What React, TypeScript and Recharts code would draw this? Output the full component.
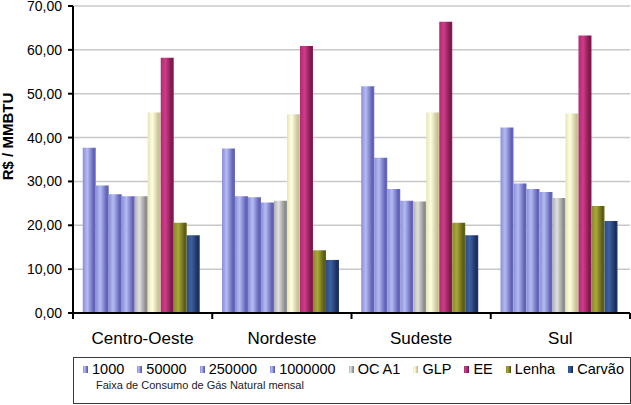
import React from 'react';
import { BarChart, Bar, XAxis, YAxis, CartesianGrid, Label } from 'recharts';

const categories = ['Centro-Oeste', 'Nordeste', 'Sudeste', 'Sul'];
const s1000 = [37.7, 37.5, 51.7, 42.3];
const s50000 = [29.1, 26.6, 35.4, 29.5];
const s250000 = [27.1, 26.4, 28.3, 28.3];
const s1000000 = [26.6, 25.2, 25.6, 27.6];
const sOCA1 = [26.6, 25.6, 25.4, 26.2];
const sGLP = [45.7, 45.3, 45.7, 45.5];
const sEE = [58.2, 60.9, 66.4, 63.3];
const sLenha = [20.6, 14.3, 20.6, 24.4];
const sCarvao = [17.7, 12.1, 17.7, 21.0];
const yTicks = [0, 10, 20, 30, 40, 50, 60, 70];

const series = [
  { key: 'k1000', name: '1000', values: s1000, grad: 'gBlue', stops: ['#8a8ed6', '#b6baf2', '#5d60b4', '#6a6dc0'] },
  { key: 'k50000', name: '50000', values: s50000, grad: 'gBlue', stops: ['#8a8ed6', '#b6baf2', '#5d60b4', '#6a6dc0'] },
  { key: 'k250000', name: '250000', values: s250000, grad: 'gBlue', stops: ['#8a8ed6', '#b6baf2', '#5d60b4', '#6a6dc0'] },
  { key: 'k1000000', name: '1000000', values: s1000000, grad: 'gBlue', stops: ['#8a8ed6', '#b6baf2', '#5d60b4', '#6a6dc0'] },
  { key: 'kOC', name: 'OC A1', values: sOCA1, grad: 'gGray', stops: ['#b0b0b0', '#e0e0e0', '#8a8a8a', '#9a9a9a'] },
  { key: 'kGLP', name: 'GLP', values: sGLP, grad: 'gYellow', stops: ['#e6e4b4', '#fffee2', '#c4c090', '#d2cea0'] },
  { key: 'kEE', name: 'EE', values: sEE, grad: 'gEE', stops: ['#b02a72', '#d03c8a', '#7a1848', '#8a2055'] },
  { key: 'kLenha', name: 'Lenha', values: sLenha, grad: 'gLenha', stops: ['#8a8a2a', '#a8a83a', '#5a5a12', '#66661a'] },
  { key: 'kCarvao', name: 'Carvão', values: sCarvao, grad: 'gCarvao', stops: ['#2c4c8a', '#3e60a0', '#1a2e5e', '#223a6c'] },
];

const data = categories.map((c, i) => {
  const row: Record<string, any> = { name: c };
  series.forEach((s) => { row[s.key] = s.values[i]; });
  return row;
});

const W = 631;
const H = 405;
const M = { top: 6, right: 1, left: 0, bottom: 48 };
const YW = 73;
const band = (W - M.left - M.right - YW) / categories.length;

const fmt = (v: number) => v.toFixed(2).replace('.', ',');

const CatTick = (props: any) => {
  const { x, y, payload, index } = props;
  const half = band / 2;
  return (
    <g>
      <line x1={x - half} x2={x - half} y1={y} y2={y + 6} stroke="#000" strokeWidth={2} />
      {index === categories.length - 1 && (
        <line x1={x + half} x2={x + half} y1={y} y2={y + 6} stroke="#000" strokeWidth={2} />
      )}
      <text x={x} y={y + 31} textAnchor="middle" fontSize={17} fill="#000" fontFamily="Arial, 'Liberation Sans', sans-serif">
        {payload.value}
      </text>
    </g>
  );
};

const YTitle = (props: any) => {
  const vb = props.viewBox || { x: 0, y: 0, width: 0, height: 0 };
  const cx = 13;
  const cy = vb.y + vb.height / 2 - 23;
  return (
    <text x={cx} y={cy} transform={`rotate(-90 ${cx} ${cy})`} textAnchor="middle" fontSize={15} fontWeight="bold" fill="#000" fontFamily="Arial, 'Liberation Sans', sans-serif">
      R$ / MMBTU
    </text>
  );
};

const uniqueGrads = series.filter((s, i) => series.findIndex((t) => t.grad === s.grad) === i);

export default function App() {
  return (
    <div style={{ position: 'absolute', left: 0, top: 0, width: W, height: H, background: '#fff', fontFamily: "Arial, 'Liberation Sans', sans-serif" }}>
      <BarChart width={W} height={H} data={data} margin={M} barCategoryGap="7%" barGap={0}>
        <defs>
          {uniqueGrads.map((s) => (
            <linearGradient key={s.grad} id={s.grad} x1="0" y1="0" x2="1" y2="0">
              <stop offset="0%" stopColor={s.stops[0]} />
              <stop offset="35%" stopColor={s.stops[1]} />
              <stop offset="85%" stopColor={s.stops[2]} />
              <stop offset="100%" stopColor={s.stops[3]} />
            </linearGradient>
          ))}
        </defs>
        <CartesianGrid vertical={false} stroke="#c8c8c8" strokeWidth={1.5} />
        <XAxis dataKey="name" axisLine={{ stroke: '#000', strokeWidth: 2 }} tickLine={false} tickSize={0} tickMargin={0} height={44} tick={<CatTick />} interval={0} />
        <YAxis
          width={YW}
          domain={[0, 70]}
          ticks={yTicks}
          tickFormatter={fmt}
          axisLine={{ stroke: '#000', strokeWidth: 2 }}
          tickLine={{ stroke: '#000', strokeWidth: 2 }}
          tickSize={5}
          tickMargin={6}
          tick={{ fontSize: 14, fill: '#000', fontFamily: "Arial, 'Liberation Sans', sans-serif" }}
          interval={0}
        >
          <Label content={<YTitle />} />
        </YAxis>
        {series.map((s) => (
          <Bar key={s.key} dataKey={s.key} name={s.name} fill={`url(#${s.grad})`} isAnimationActive={false} />
        ))}
      </BarChart>
      <div
        style={{
          position: 'absolute',
          left: 73,
          top: 357,
          width: W - 73,
          height: 47,
          border: '1.5px solid #3a3a3a',
          boxSizing: 'border-box',
          background: '#fff',
        }}
      >
        <div style={{ display: 'flex', alignItems: 'center', justifyContent: 'space-between', position: 'absolute', left: 9, width: 541, top: 3, fontSize: 14.5, color: '#000', whiteSpace: 'nowrap' }}>
          {series.map((s) => (
            <div key={s.key} style={{ display: 'flex', alignItems: 'center' }}>
              <span style={{ display: 'inline-block', width: 5, height: 7, background: `linear-gradient(to right, ${s.stops[0]}, ${s.stops[1]} 35%, ${s.stops[2]} 85%)`, marginRight: 4 }} />
              <span>{s.name}</span>
            </div>
          ))}
        </div>
        <div style={{ position: 'absolute', left: 22, top: 21, fontSize: 11, color: '#222', whiteSpace: 'nowrap' }}>
          Faixa de Consumo de Gás Natural mensal
        </div>
      </div>
    </div>
  );
}
